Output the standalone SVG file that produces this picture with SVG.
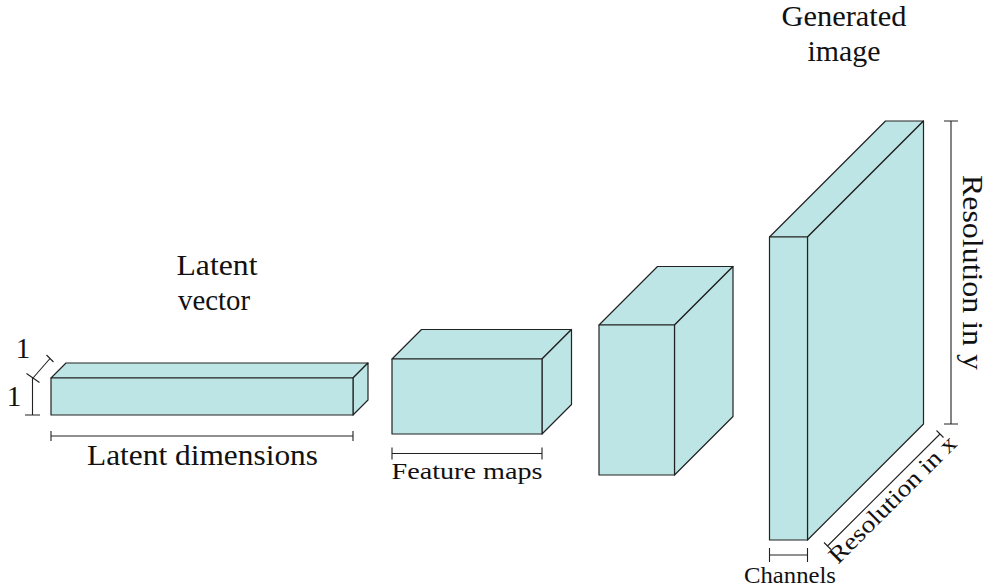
<svg xmlns="http://www.w3.org/2000/svg" width="990" height="588" viewBox="0 0 990 588" font-family="'Liberation Serif', 'Times New Roman', 'DejaVu Serif', serif">
<style>
.face{fill:#bee5e5;stroke:#222;stroke-width:1.2;stroke-linejoin:round}
.dim{fill:none;stroke:#222;stroke-width:1.1}
.lbl{fill:#111;text-anchor:middle}
.big{font-size:29px}
.sm{font-size:24px}
</style>
<rect width="990" height="588" fill="#fff"/>
<g id="latent-vector">
<polygon class="face" points="51,378 66,363 368,363 353,378"/>
<polygon class="face" points="353,378 368,363 368,400 353,415"/>
<rect class="face" x="51" y="378" width="302" height="37"/>
<text class="lbl big" x="217" y="275" textLength="81" lengthAdjust="spacingAndGlyphs">Latent</text>
<text class="lbl big" x="214" y="310" textLength="72" lengthAdjust="spacingAndGlyphs">vector</text>
</g>
<g id="feature-maps-1">
<polygon class="face" points="392,359 421.5,329.5 571.5,329.5 542,359"/>
<polygon class="face" points="542,359 571.5,329.5 571.5,404.5 542,434"/>
<rect class="face" x="392" y="359" width="150" height="75"/>
</g>
<g id="feature-maps-2">
<polygon class="face" points="599,325 657.5,266.5 733,266.5 674.5,325"/>
<polygon class="face" points="674.5,325 733,266.5 733,416.5 674.5,475"/>
<rect class="face" x="599" y="325" width="75.5" height="150"/>
</g>
<g id="generated-image">
<polygon class="face" points="769.5,237 885.5,121 923.5,121 807.5,237"/>
<polygon class="face" points="807.5,237 923.5,121 923.5,424 807.5,540"/>
<rect class="face" x="769.5" y="237" width="38" height="303"/>
<text class="lbl big" x="844" y="26" textLength="125" lengthAdjust="spacingAndGlyphs">Generated</text>
<text class="lbl big" x="844" y="61" textLength="73" lengthAdjust="spacingAndGlyphs">image</text>
</g>
<g id="connectors">
<path class="dim" d="M32.5,378 V415 M25,415 H40"/>
<path class="dim" d="M33,378 L50,358.5 M26.5,373.5 L39.5,382.5 M46.5,355 L53.5,362"/>
<path class="dim" d="M51,436 H353 M51,431 V441 M353,431 V441"/>
<path class="dim" d="M392,453.5 H542 M392,447.5 V459.5 M542,447.5 V459.5"/>
<path class="dim" d="M951,121 V424 M944,121 H958 M944,424 H958"/>
<path class="dim" d="M827.5,546 L940,434 M824,542.5 L831,549.5 M936.5,430.5 L943.5,437.5"/>
<path class="dim" d="M769.5,555 H807.5 M769.5,548 V562 M807.5,548 V562"/>
</g>
<g id="labels">
<text class="lbl big" x="23" y="358">1</text>
<text class="lbl big" x="14" y="406">1</text>
<text class="lbl big" x="202.5" y="465" textLength="231" lengthAdjust="spacingAndGlyphs">Latent dimensions</text>
<text class="lbl sm" x="467" y="479" textLength="151" lengthAdjust="spacingAndGlyphs">Feature maps</text>
<text class="lbl sm" x="790" y="583" textLength="92" lengthAdjust="spacingAndGlyphs">Channels</text>
<text class="lbl big" transform="translate(963,272.5) rotate(90)" x="0" y="0" textLength="195" lengthAdjust="spacingAndGlyphs">Resolution in y</text>
<text class="lbl sm" transform="translate(898,505) rotate(-45)" x="0" y="0" textLength="170" lengthAdjust="spacingAndGlyphs">Resolution in x</text>
</g>
</svg>
